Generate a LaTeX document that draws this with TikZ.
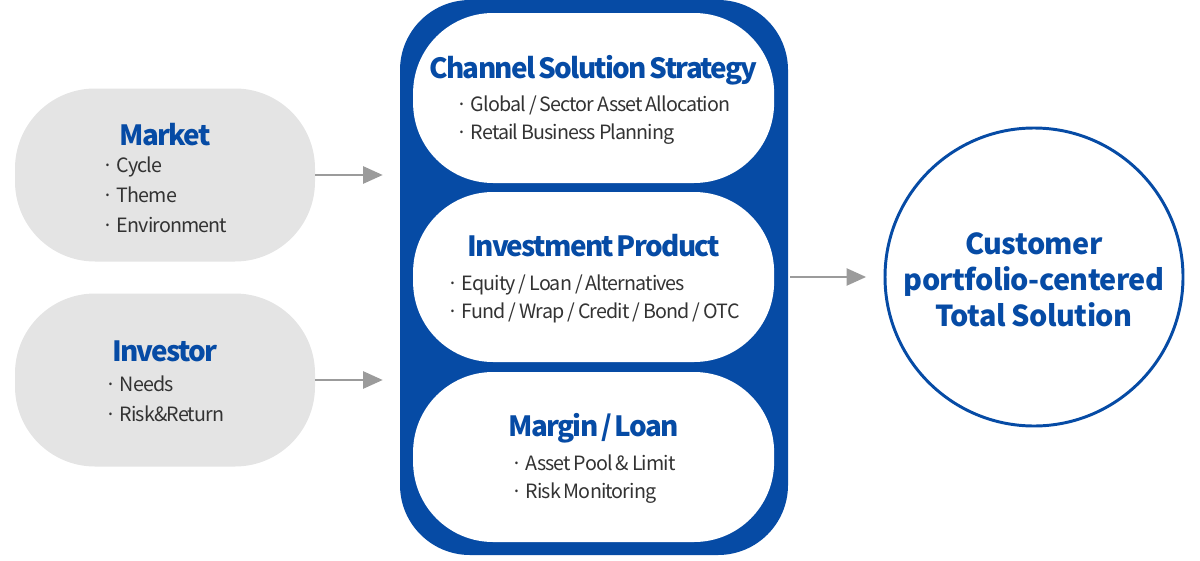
\documentclass[tikz,border=0pt]{standalone}
\usepackage{fontspec}
\setmainfont{Noto Sans CJK KR}
\newfontfamily\tightfont[LetterSpace=-4.5, WordSpace=0.85]{Noto Sans CJK KR}
\newfontfamily\titlefont[LetterSpace=-6, WordSpace=0.6]{Noto Sans CJK KR}
\newfontfamily\circlefont[LetterSpace=-2]{Noto Sans CJK KR}
\usepackage{xcolor}
\usetikzlibrary{arrows.meta, positioning}
\definecolor{brandblue}{HTML}{064BA5}
\definecolor{pillgray}{HTML}{E4E4E4}
\definecolor{itemgray}{HTML}{333333}
\definecolor{arrowgray}{HTML}{9B9B9B}
\newcommand{\pilltitle}[2][20pt]{\rule{0pt}{#1}{\titlefont\fontsize{19.8}{24}\selectfont\bfseries\color{brandblue}#2}}
\newcommand{\pillitems}[1]{{\color{itemgray}\begin{tabular}[t]{@{}l@{}}#1\end{tabular}}}
\tikzset{
  sidepill/.style={rectangle, rounded corners=2cm, minimum width=7.5cm, minimum height=4.325cm,
    fill=pillgray, align=center, inner sep=0pt, outer sep=0pt,
    font=\tightfont\fontsize{14}{21.3}\selectfont},
  framebox/.style={rectangle, rounded corners=1.75cm, minimum width=9.7cm, minimum height=13.875cm,
    fill=brandblue, inner sep=0pt, outer sep=0pt},
  innerpill/.style={rectangle, rounded corners=2cm, minimum width=9.025cm, minimum height=4.25cm,
    fill=white, align=center, inner sep=0pt, outer sep=0pt,
    font=\tightfont\fontsize{14}{20}\selectfont},
  goalcircle/.style={circle, minimum size=7.45cm, draw=brandblue, line width=2.1pt,
    align=center, inner sep=0pt, outer sep=0pt, text=brandblue,
    font=\circlefont\fontsize{20.5}{25.5}\selectfont\bfseries},
  arrow/.style={-{Triangle[length=14pt, width=12pt]}, line width=2.1pt, arrowgray}
}
\begin{document}
\begin{tikzpicture}
  \useasboundingbox (0,0) rectangle (30,-14);
  % left inputs
  \node[sidepill] (market) at (4.125,-4.375)
        {\pilltitle[26pt]{Market}\\[-2pt]\pillitems{· Cycle\\· Theme\\· Environment}};
  \node[sidepill, below=0.8cm of market] (investor)
        {\pilltitle[23pt]{Investor}\\[0pt]\pillitems{· Needs\\· Risk\&Return}};
  % centre block
  \node[framebox] (frame) at (14.85,-6.9375) {};
  \node[innerpill] (chan) at (14.84,-2.45)
        {\pilltitle[22pt]{Channel Solution Strategy}\\[3.5pt]
         \pillitems{· Global / Sector Asset Allocation\\· Retail Business Planning}};
  \node[innerpill, below=0.225cm of chan] (prod)
        {\pilltitle[21pt]{Investment Product}\\[3.5pt]
         \pillitems{· Equity / Loan / Alternatives\\· Fund / Wrap / Credit / Bond / OTC}};
  \node[innerpill, below=0.25cm of prod] (margin)
        {\pilltitle[21pt]{Margin / Loan}\\[3.5pt]
         \pillitems{· Asset Pool \& Limit\\· Risk Monitoring}};
  % output
  \node[goalcircle] (goal) at (25.85,-6.925)
        {\rule{0pt}{19pt}Customer\\portfolio-centered\\Total Solution};
  \draw[arrow, shorten >=0.43cm] (market.east) -- (market.east -| frame.west);
  \draw[arrow, shorten >=0.43cm] (investor.east) -- (investor.east -| frame.west);
  \draw[arrow, shorten <=0.05cm, shorten >=0.47cm] (frame.east |- goal.west) -- (goal.west);
\end{tikzpicture}
\end{document}
